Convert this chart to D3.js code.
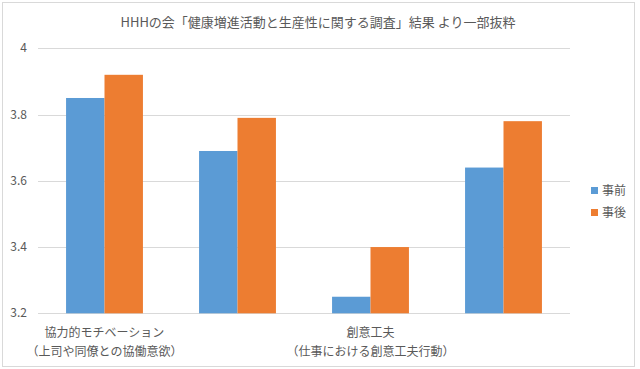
<!DOCTYPE html>
<html>
<head>
<meta charset="utf-8">
<script src="https://cdn.jsdelivr.net/npm/d3@7"></script>
<style>
  body { margin: 0; background: #fff; }
  text { font-family: "Noto Sans CJK JP", "Noto Sans", sans-serif; fill: #595959; }
</style>
</head>
<body>
<div id="chart"></div>
<script>
const title = 'HHHの会「健康増進活動と生産性に関する調査」結果 より一部抜粋';
const categories = ['c1', 'c2', 'c3', 'c4'];
const catLabels = [
  ['協力的モチベーション', '（上司や同僚との協働意欲）'],
  null,
  ['創意工夫', '（仕事における創意工夫行動）'],
  null
];
const seriesNames = ['事前', '事後'];
const before = [3.85, 3.69, 3.25, 3.64];
const after = [3.92, 3.79, 3.40, 3.78];
const yTicks = [3.2, 3.4, 3.6, 3.8, 4];
const colors = ['#5B9BD5', '#ED7D31'];

const width = 640,
  height = 369;

const svg = d3.select('#chart').append('svg').attr('width', width).attr('height', height);

svg.append('rect')
  .attr('x', 2.5).attr('y', 2.5)
  .attr('width', 632).attr('height', 364)
  .attr('fill', '#fff').attr('stroke', '#d9d9d9');

svg.append('text')
  .attr('x', 318).attr('y', 27)
  .attr('text-anchor', 'middle')
  .style('font-size', '13px')
  .text(title);

const x = d3.scaleBand().domain(categories).range([38, 570]);
const x1 = d3.scaleBand().domain([0, 1]).range([0, x.bandwidth()]).paddingOuter(0.73);
const y = d3.scaleLinear().domain([3.2, 4]).range([313.3, 48.3]);

// grid
svg.append('g')
  .selectAll('line')
  .data(yTicks)
  .join('line')
  .attr('x1', 38).attr('x2', 570)
  .attr('y1', d => Math.round(y(d)) + 0.5)
  .attr('y2', d => Math.round(y(d)) + 0.5)
  .attr('stroke', '#d9d9d9');

svg.append('g')
  .selectAll('text')
  .data(yTicks)
  .join('text')
  .attr('x', 27)
  .attr('y', d => y(d) + 4)
  .attr('text-anchor', 'end')
  .style('font-size', '12px')
  .text(d => d3.format('.1~f')(d));

const series = [before, after];
series.forEach((vals, s) => {
  svg.append('g')
    .selectAll('rect')
    .data(vals)
    .join('rect')
    .attr('x', (d, i) => x(categories[i]) + x1(s))
    .attr('width', x1.bandwidth())
    .attr('y', d => y(d))
    .attr('height', d => y(3.2) - y(d))
    .attr('fill', colors[s]);
});

// category labels (every other one, as Excel skips)
const labelG = svg.append('g');
catLabels.forEach((lab, i) => {
  if (!lab) return;
  const cx = x(categories[i]) + x.bandwidth() / 2;
  lab.forEach((line, j) => {
    labelG.append('text')
      .attr('x', cx)
      .attr('y', 337 + j * 19)
      .attr('text-anchor', 'middle')
      .style('font-size', '12px')
      .text(line);
  });
});

// legend
const legend = svg.append('g')
  .selectAll('g')
  .data(seriesNames)
  .join('g')
  .attr('transform', (d, i) => `translate(591,${187 + i * 22})`);

legend.append('rect')
  .attr('width', 7).attr('height', 7)
  .attr('fill', (d, i) => colors[i]);

legend.append('text')
  .attr('x', 11).attr('y', 8)
  .style('font-size', '12px')
  .text(d => d);
</script>
</body>
</html>
